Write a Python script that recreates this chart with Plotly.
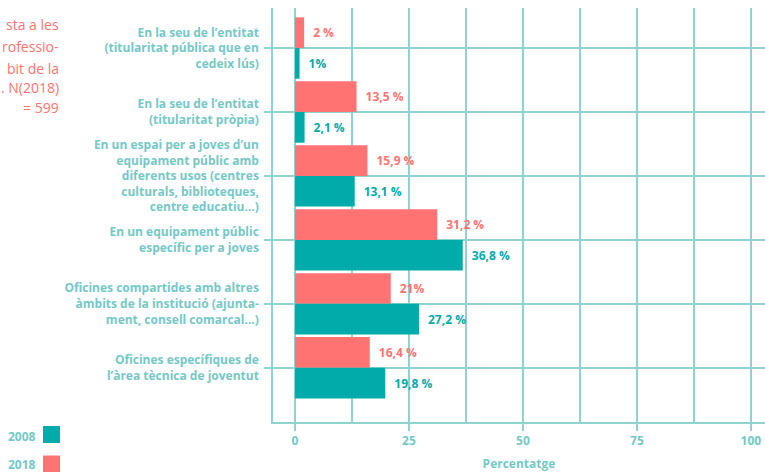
import plotly.graph_objects as go

categories = [
    "En la seu de l’entitat<br>(titularitat pública que en<br>cedeix lús)",
    "En la seu de l’entitat<br>(titularitat pròpia)",
    "En un espai per a joves d’un<br>equipament públic amb<br>diferents usos (centres<br>culturals, biblioteques,<br>centre educatiu...)",
    "En un equipament públic<br>específic per a joves",
    "Oficines compartides amb altres<br>àmbits de la institució (ajunta-<br>ment, consell comarcal...)",
    "Oficines específiques de<br>l’àrea tècnica de joventut",
]
values_2018 = [2, 13.5, 15.9, 31.2, 21, 16.4]
values_2008 = [1, 2.1, 13.1, 36.8, 27.2, 19.8]
labels_2018 = ["2 %", "13,5 %", "15,9 %", "31,2 %", "21%", "16,4 %"]
labels_2008 = ["1%", "2,1 %", "13,1 %", "36,8 %", "27,2 %", "19,8 %"]
x_ticks = [0, 25, 50, 75, 100]
subtitle_lines = ["sta a les", "rofessio-", "bit de la", ". N(2018)", "= 599"]

PINK = "#FF7373"
TEAL = "#00ABAA"
GRID = "#8ED3D0"
LABEL = "#74C8C6"
FONT = "Open Sans"

W, H = 765, 472
ml, mr, mt, mb = 273, 0, 8, 50

fig = go.Figure()
fig.add_trace(go.Bar(
    y=categories, x=values_2018, orientation="h", name="2018",
    marker=dict(color=PINK, line=dict(width=0)),
    text=["\u2002" + t for t in labels_2018], textposition="outside",
    textfont=dict(family=FONT, size=12, color=PINK, weight="bold"),
    cliponaxis=False,
))
fig.add_trace(go.Bar(
    y=categories, x=values_2008, orientation="h", name="2008",
    marker=dict(color=TEAL, line=dict(width=0)),
    text=["\u2002" + t for t in labels_2008], textposition="outside",
    textfont=dict(family=FONT, size=12, color=TEAL, weight="bold"),
    cliponaxis=False,
))

fig.update_layout(
    width=W, height=H,
    margin=dict(l=ml, r=mr, t=mt, b=mb, pad=0, autoexpand=False),
    paper_bgcolor="white", plot_bgcolor="white",
    barmode="group", bargap=0.04, bargroupgap=0,
    showlegend=False,
    font=dict(family=FONT, color=LABEL),
)

fig.update_xaxes(
    automargin=False,
    range=[-4.83, 103.1],
    tickvals=x_ticks, ticktext=[str(v) for v in x_ticks],
    tickfont=dict(family=FONT, size=12, color=LABEL, weight="bold"),
    showgrid=True, gridcolor=GRID, gridwidth=1.5,
    zeroline=False,
    minor=dict(tickvals=[12.5, 37.5, 62.5, 87.5], showgrid=True, gridcolor=GRID, gridwidth=1.5, ticks=""),
    showline=True, linecolor=GRID, linewidth=1.5,
    ticks="outside", ticklen=7, tickcolor=GRID, tickwidth=1.5,
    title=dict(text="Percentatge", font=dict(family=FONT, size=12, color=LABEL, weight="bold"), standoff=15),
)
fig.update_yaxes(
    automargin=False,
    type="category", categoryorder="array", categoryarray=categories,
    range=[5.848, -0.626],
    tickfont=dict(family=FONT, size=12, color=LABEL, weight="bold"),
    showgrid=True, gridcolor=GRID, gridwidth=1.5,
    showline=True, linecolor=GRID, linewidth=1.5,
    ticks="outside", ticklen=7, tickcolor=GRID, tickwidth=1.5,
    ticklabelstandoff=3,
)

ph = H - mt - mb
pw = W - ml - mr

# subtitle (left, partially cut off in the source)
sub_y = [25, 47, 68, 88, 108]
for line, yp in zip(subtitle_lines, sub_y):
    fig.add_annotation(
        text=line, xref="paper", yref="paper",
        x=(61 - ml) / pw, y=1 - (yp - mt) / ph,
        xanchor="right", yanchor="middle", showarrow=False,
        font=dict(family=FONT, size=14, color=PINK),
    )

# legend (text left of swatch)
legend_items = [("2008", TEAL, 434.5, 436.5), ("2018", PINK, 464, 464.5)]
for name, col, yc, ytext in legend_items:
    fig.add_annotation(
        text=name, xref="paper", yref="paper",
        x=(38 - ml) / pw, y=1 - (ytext - mt) / ph,
        xanchor="right", yanchor="middle", showarrow=False,
        font=dict(family=FONT, size=12, color=LABEL, weight="bold"),
    )
    fig.add_shape(
        type="rect", xref="paper", yref="paper",
        x0=(43 - ml) / pw, x1=(60 - ml) / pw,
        y0=1 - (yc - 8.5 - mt) / ph, y1=1 - (yc + 8.5 - mt) / ph,
        fillcolor=col, line=dict(width=0), layer="above",
    )

fig.write_html(
    "out.html",
    config={"displayModeBar": False},
    post_script="document.body.style.margin='0';document.body.style.overflow='hidden';",
)
